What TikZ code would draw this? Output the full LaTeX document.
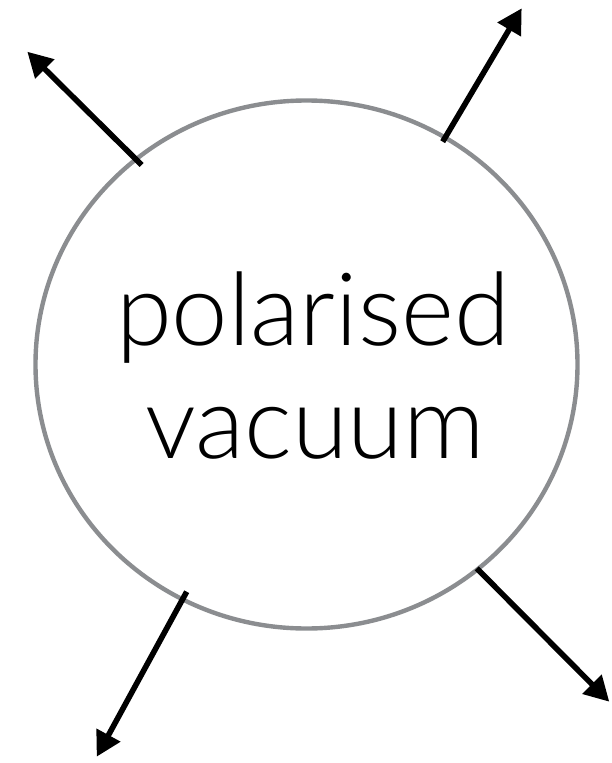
\documentclass[tikz,border=0pt]{standalone}
\usepackage{fontspec}
\setmainfont{Lato Light}
\usetikzlibrary{arrows.meta,shapes.geometric}
\definecolor{ringgray}{HTML}{8B8D90}
\tikzset{
  ring/.style={draw=ringgray, line width=3.3pt, ellipse, minimum width=406.5pt, minimum height=396pt, inner sep=0pt},
  outarrow/.style={draw=black, line width=4.2pt, -{Triangle[length=18.5pt,width=19.5pt]}},
  bigtext/.style={font=\fontsize{76}{90}\selectfont, anchor=base, inner sep=0pt}
}
\begin{document}
\begin{tikzpicture}[x=0.75pt,y=-0.75pt]
\useasboundingbox (0,0) rectangle (611,763);
\node[ring] (vac) at (306.5,364.5) {};
\node[bigtext] (l1) at (313,345) {polarised};
\node[bigtext] (l2) at (315,458) {vacuum};
\coordinate (s1) at (141.7,165);
\coordinate (t1) at (27.3,51.7);
\coordinate (s2) at (442.7,141.7);
\coordinate (t2) at (521.7,8.3);
\coordinate (s3) at (186.7,591.7);
\coordinate (t3) at (96.7,756.7);
\coordinate (s4) at (476.7,568.3);
\coordinate (t4) at (609.3,701.7);
\draw[outarrow] (s1) -- (t1);
\draw[outarrow] (s2) -- (t2);
\draw[outarrow] (s3) -- (t3);
\draw[outarrow] (s4) -- (t4);
\end{tikzpicture}
\end{document}
